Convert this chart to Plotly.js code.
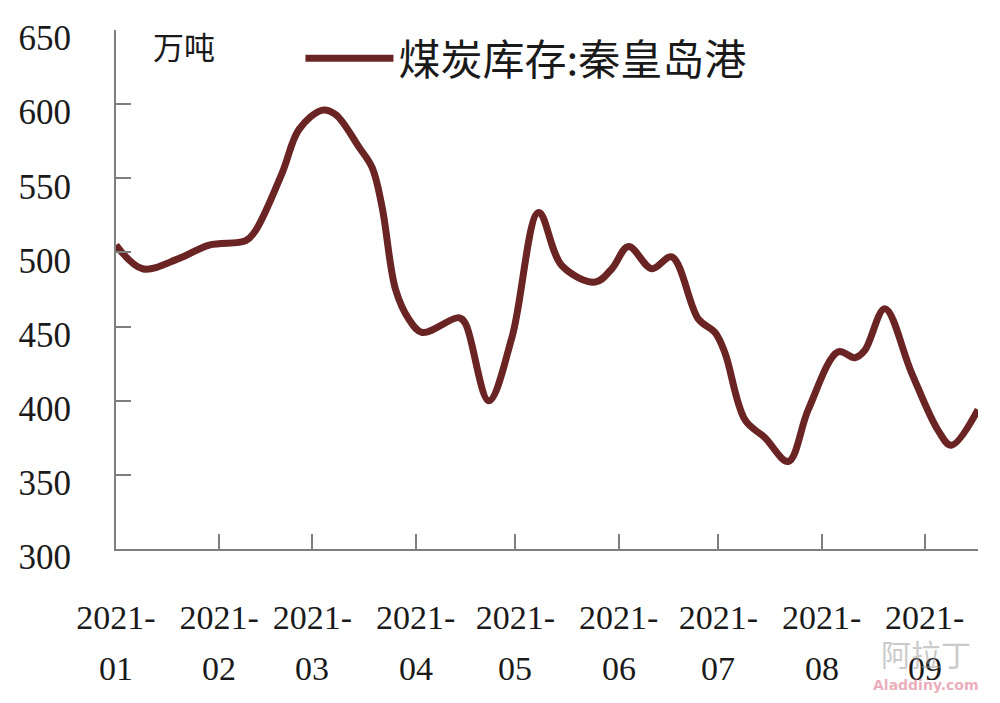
<!DOCTYPE html>
<html>
<head>
<meta charset="utf-8">
<script src="https://cdn.plot.ly/plotly-3.0.1.min.js"></script>
<style>html,body{margin:0;padding:0;background:#fff;}#chart{width:1000px;height:703px;}</style>
</head>
<body>
<div id="chart"></div>
<script>
// Data
const seriesName = "煤炭库存:秦皇岛港";
const unitLabel = "万吨";
const dates = [
  "2021-01-01","2021-01-09","2021-01-20","2021-01-29","2021-02-09","2021-02-12",
  "2021-02-20","2021-02-25","2021-03-04","2021-03-08","2021-03-15","2021-03-19",
  "2021-03-22","2021-03-26","2021-03-30","2021-04-03","2021-04-14","2021-04-16",
  "2021-04-23","2021-04-30","2021-05-08","2021-05-15","2021-05-25","2021-05-30",
  "2021-06-04","2021-06-11","2021-06-17","2021-06-25","2021-06-30","2021-07-03",
  "2021-07-09","2021-07-15","2021-07-22","2021-07-28","2021-08-06","2021-08-11",
  "2021-08-14","2021-08-20","2021-08-28","2021-09-05","2021-09-09","2021-09-17"
];
const stock = [
  505,489,496,505,508,515,
  554,583,596,593,571,557,
  530,475,455,446,456,452,
  400,443,527,491,480,489,
  504,489,497,455,446,432,
  387,375,359,394,433,429,
  434,462,419,380,370,394
];
const tickDates = ["2021-01-01","2021-02-01","2021-03-01","2021-04-01","2021-05-01","2021-06-01","2021-07-01","2021-08-01","2021-09-01"];
const tickYear = ["2021-","2021-","2021-","2021-","2021-","2021-","2021-","2021-","2021-"];
const tickMonth = ["01","02","03","04","05","06","07","08","09"];
const yTicks = [300,350,400,450,500,550,600,650];

const axisColor = "#7f7f7f";
const textColor = "#1a1a1a";
const serif = "Liberation Serif, DejaVu Serif, serif";
const cjk = "Noto Sans CJK SC, sans-serif";

const trace = {
  x: dates, y: stock, type: "scatter", mode: "lines", name: seriesName,
  line: {color: "#6b2424", width: 7, shape: "spline", smoothing: 1}
};

const annotations = tickDates.map((d, i) => ({
  x: d, xref: "x", y: -0.231, yref: "paper", text: tickMonth[i], showarrow: false,
  xanchor: "center", yanchor: "middle", font: {family: serif, size: 34, color: textColor}
}));
annotations.push({
  x: 0.0785, xref: "paper", y: 0.97, yref: "paper", text: unitLabel, showarrow: false,
  xanchor: "center", yanchor: "middle", font: {family: cjk, size: 31, color: textColor}
});
annotations.push({
  x: 0.94, xref: "paper", y: -0.2, yref: "paper", text: "阿拉丁", showarrow: false,
  xanchor: "center", yanchor: "middle", font: {family: cjk, size: 30, color: "rgba(150,150,150,0.5)"}
});
annotations.push({
  x: 0.94, xref: "paper", y: -0.262, yref: "paper", text: "<b>Aladdiny.com</b>", showarrow: false,
  xanchor: "center", yanchor: "middle", font: {family: "DejaVu Sans, sans-serif", size: 14, color: "rgba(220,120,140,0.6)"}
});

const layout = {
  width: 1000, height: 703,
  margin: {l: 116, r: 22, t: 30, b: 154},
  paper_bgcolor: "#fff", plot_bgcolor: "#fff",
  showlegend: true,
  legend: {
    x: 0.214, y: 0.945, xanchor: "left", yanchor: "middle",
    font: {family: cjk, size: 42, color: textColor},
    itemwidth: 88, bgcolor: "rgba(0,0,0,0)", borderwidth: 0
  },
  xaxis: {
    type: "date", range: ["2021-01-01", "2021-09-17"],
    showline: true, linecolor: axisColor, linewidth: 2,
    showgrid: false, zeroline: false,
    ticks: "inside", ticklen: 15, tickwidth: 2, tickcolor: axisColor,
    tickmode: "array", tickvals: tickDates, ticktext: tickYear,
    tickfont: {family: serif, size: 34, color: textColor},
    ticklabelstandoff: 37
  },
  yaxis: {
    range: [300, 650],
    showline: true, linecolor: axisColor, linewidth: 2,
    showgrid: false, zeroline: false,
    ticks: "inside", ticklen: 15, tickwidth: 2, tickcolor: axisColor,
    tickmode: "array", tickvals: yTicks, ticktext: yTicks.map(String),
    tickfont: {family: serif, size: 35, color: textColor},
    ticklabelstandoff: 36, ticklabelshift: 8
  },
  annotations: annotations
};

Plotly.newPlot("chart", [trace], layout, {displayModeBar: false, staticPlot: true});
</script>
</body>
</html>
